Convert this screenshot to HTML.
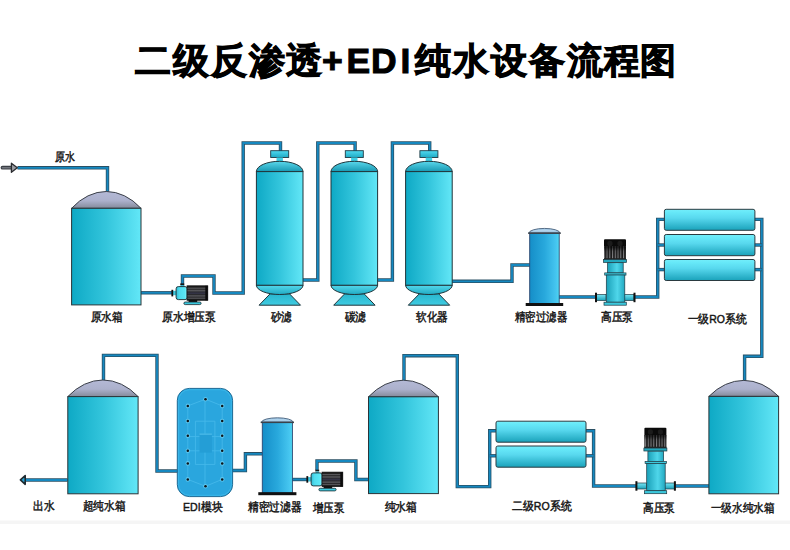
<!DOCTYPE html>
<html><head><meta charset="utf-8"><style>
html,body{margin:0;padding:0;background:#fff;width:790px;height:550px;overflow:hidden}
svg{display:block;font-family:"Liberation Sans",sans-serif}
.title{position:absolute;left:0;top:0}
</style></head><body>
<svg width="790" height="550" viewBox="0 0 790 550">
<defs>
<linearGradient id="gTank" x1="0" x2="1" y1="0" y2="0"><stop offset="0" stop-color="#0ea9c5"/><stop offset="0.5" stop-color="#33c5dc"/><stop offset="0.93" stop-color="#5ce2f3"/><stop offset="1" stop-color="#62e8f8"/></linearGradient>
<linearGradient id="gDome" x1="0" x2="0" y1="0" y2="1"><stop offset="0" stop-color="#b4b9d6"/><stop offset="0.55" stop-color="#acb1cc"/><stop offset="1" stop-color="#848a9a"/></linearGradient>
<linearGradient id="gFDome" x1="0" x2="0" y1="0" y2="1"><stop offset="0" stop-color="#5ad8ec"/><stop offset="1" stop-color="#1898b2"/></linearGradient>
<linearGradient id="gFBot" x1="0" x2="0" y1="0" y2="1"><stop offset="0" stop-color="#54d8ec"/><stop offset="1" stop-color="#20aac2"/></linearGradient>
<linearGradient id="gSkirt" x1="0" x2="0" y1="0" y2="1"><stop offset="0" stop-color="#28b6ce"/><stop offset="1" stop-color="#40cce2"/></linearGradient>
<linearGradient id="gCap" x1="0" x2="0" y1="0" y2="1"><stop offset="0" stop-color="#50daf0"/><stop offset="1" stop-color="#1eaac4"/></linearGradient>
<linearGradient id="gHead" x1="0" x2="1" y1="0" y2="0"><stop offset="0" stop-color="#1aa0b8"/><stop offset="0.6" stop-color="#4fd6ea"/><stop offset="1" stop-color="#22a8c0"/></linearGradient>
<linearGradient id="gPort" x1="0" x2="0" y1="0" y2="1"><stop offset="0" stop-color="#7ae6f4"/><stop offset="1" stop-color="#1aa0b8"/></linearGradient>
<linearGradient id="gMotor" x1="0" x2="0" y1="0" y2="1">
<stop offset="0" stop-color="#141414"/><stop offset="0.1" stop-color="#222"/><stop offset="0.16" stop-color="#5a5a5e"/><stop offset="0.24" stop-color="#2a2a2c"/>
<stop offset="0.34" stop-color="#5c5c60"/><stop offset="0.42" stop-color="#2a2a30"/><stop offset="0.52" stop-color="#343448"/><stop offset="0.6" stop-color="#2a2a2e"/>
<stop offset="0.7" stop-color="#5a5a5e"/><stop offset="0.78" stop-color="#262628"/><stop offset="0.86" stop-color="#56565a"/><stop offset="0.93" stop-color="#1e1e1e"/><stop offset="1" stop-color="#111"/></linearGradient>
<linearGradient id="gHead1" x1="0" x2="1" y1="0" y2="0"><stop offset="0" stop-color="#2fbcd4"/><stop offset="0.3" stop-color="#4fdcee"/><stop offset="0.8" stop-color="#5ae8f6"/><stop offset="0.92" stop-color="#86f4ff"/><stop offset="1" stop-color="#2ab4cc"/></linearGradient>
<pattern id="gRib" x="0.6" y="0" width="2.75" height="20" patternUnits="userSpaceOnUse"><rect width="2.75" height="20" fill="#1a1a1a"/><rect x="0.9" width="1.1" height="20" fill="#8a8a8e"/></pattern><linearGradient id="gRibShade" x1="0" x2="0" y1="0" y2="1"><stop offset="0" stop-color="#000" stop-opacity="0.75"/><stop offset="0.35" stop-color="#000" stop-opacity="0.2"/><stop offset="1" stop-color="#000" stop-opacity="0"/></linearGradient>
<linearGradient id="gPF" x1="0" x2="1" y1="0" y2="0"><stop offset="0" stop-color="#158ec8"/><stop offset="0.5" stop-color="#28a8dc"/><stop offset="0.9" stop-color="#46c6f0"/><stop offset="1" stop-color="#4edaf2"/></linearGradient>
<linearGradient id="gPDome" x1="0" x2="0" y1="0" y2="1"><stop offset="0" stop-color="#9cc4e4"/><stop offset="0.5" stop-color="#b4d6ee"/><stop offset="1" stop-color="#8cb4d4"/></linearGradient>
<linearGradient id="gMem" x1="0" x2="0" y1="0" y2="1"><stop offset="0" stop-color="#74eefa"/><stop offset="0.15" stop-color="#66e8f8"/><stop offset="0.42" stop-color="#58d8ee"/><stop offset="1" stop-color="#1aa2ba"/></linearGradient>
<linearGradient id="gEDI" x1="0" x2="1" y1="0" y2="0"><stop offset="0" stop-color="#2296d0"/><stop offset="0.5" stop-color="#2ea8e2"/><stop offset="1" stop-color="#2a9ed8"/></linearGradient>
</defs>
<rect x="0" y="520.5" width="790" height="3.5" fill="#f5f5f5"/>

<text x="135 173 211 249 285.5 322 346.5 371 400.6 415 452.6 491 528.5 566.6 604 639.5" y="72.9" font-size="35.5" font-weight="900" fill="#000" stroke="#000" stroke-width="1">二级反渗透+EDI纯水设备流程图</text>
<path d="M17.5,167.8 L107.5,167.8 L107.5,192" fill="none" stroke="#2a5064" stroke-width="3.4" stroke-linejoin="miter" stroke-linecap="butt"/>
<path d="M17.5,167.8 L107.5,167.8 L107.5,192" fill="none" stroke="#1588c0" stroke-width="1.8" stroke-linejoin="miter" stroke-linecap="butt"/>
<path d="M141,292.8 L173,292.8" fill="none" stroke="#2a5064" stroke-width="3.4" stroke-linejoin="miter" stroke-linecap="butt"/>
<path d="M141,292.8 L173,292.8" fill="none" stroke="#1588c0" stroke-width="1.8" stroke-linejoin="miter" stroke-linecap="butt"/>
<path d="M182.5,287 L182.5,276 L214,276 L214,293 L243.2,293 L243.2,143 L280.5,143 L280.5,151" fill="none" stroke="#2a5064" stroke-width="3.4" stroke-linejoin="miter" stroke-linecap="butt"/>
<path d="M182.5,287 L182.5,276 L214,276 L214,293 L243.2,293 L243.2,143 L280.5,143 L280.5,151" fill="none" stroke="#1588c0" stroke-width="1.8" stroke-linejoin="miter" stroke-linecap="butt"/>
<path d="M303.0,280 L317.8,280 L317.8,143 L355.1,143 L355.1,151" fill="none" stroke="#2a5064" stroke-width="3.4" stroke-linejoin="miter" stroke-linecap="butt"/>
<path d="M303.0,280 L317.8,280 L317.8,143 L355.1,143 L355.1,151" fill="none" stroke="#1588c0" stroke-width="1.8" stroke-linejoin="miter" stroke-linecap="butt"/>
<path d="M377.6,280 L392.4,280 L392.4,143 L429.70000000000005,143 L429.70000000000005,151" fill="none" stroke="#2a5064" stroke-width="3.4" stroke-linejoin="miter" stroke-linecap="butt"/>
<path d="M377.6,280 L392.4,280 L392.4,143 L429.70000000000005,143 L429.70000000000005,151" fill="none" stroke="#1588c0" stroke-width="1.8" stroke-linejoin="miter" stroke-linecap="butt"/>
<path d="M451.5,281.3 L512,281.3 L512,265 L530,265" fill="none" stroke="#2a5064" stroke-width="3.4" stroke-linejoin="miter" stroke-linecap="butt"/>
<path d="M451.5,281.3 L512,281.3 L512,265 L530,265" fill="none" stroke="#1588c0" stroke-width="1.8" stroke-linejoin="miter" stroke-linecap="butt"/>
<path d="M559,297 L597,297" fill="none" stroke="#2a5064" stroke-width="3.4" stroke-linejoin="miter" stroke-linecap="butt"/>
<path d="M559,297 L597,297" fill="none" stroke="#1588c0" stroke-width="1.8" stroke-linejoin="miter" stroke-linecap="butt"/>
<path d="M633,297 L657.7,297 L657.7,219.4 L665,219.4" fill="none" stroke="#2a5064" stroke-width="3.4" stroke-linejoin="miter" stroke-linecap="butt"/>
<path d="M633,297 L657.7,297 L657.7,219.4 L665,219.4" fill="none" stroke="#1588c0" stroke-width="1.8" stroke-linejoin="miter" stroke-linecap="butt"/>
<path d="M657.7,245 L665,245" fill="none" stroke="#2a5064" stroke-width="3.4" stroke-linejoin="miter" stroke-linecap="butt"/>
<path d="M657.7,245 L665,245" fill="none" stroke="#1588c0" stroke-width="1.8" stroke-linejoin="miter" stroke-linecap="butt"/>
<path d="M657.7,269.6 L665,269.6" fill="none" stroke="#2a5064" stroke-width="3.4" stroke-linejoin="miter" stroke-linecap="butt"/>
<path d="M657.7,269.6 L665,269.6" fill="none" stroke="#1588c0" stroke-width="1.8" stroke-linejoin="miter" stroke-linecap="butt"/>
<path d="M754,219.4 L761.8,219.4 L761.8,356.3 L744.6,356.3 L744.6,381" fill="none" stroke="#2a5064" stroke-width="3.4" stroke-linejoin="miter" stroke-linecap="butt"/>
<path d="M754,219.4 L761.8,219.4 L761.8,356.3 L744.6,356.3 L744.6,381" fill="none" stroke="#1588c0" stroke-width="1.8" stroke-linejoin="miter" stroke-linecap="butt"/>
<path d="M754,245 L761.8,245" fill="none" stroke="#2a5064" stroke-width="3.4" stroke-linejoin="miter" stroke-linecap="butt"/>
<path d="M754,245 L761.8,245" fill="none" stroke="#1588c0" stroke-width="1.8" stroke-linejoin="miter" stroke-linecap="butt"/>
<path d="M754,269.6 L761.8,269.6" fill="none" stroke="#2a5064" stroke-width="3.4" stroke-linejoin="miter" stroke-linecap="butt"/>
<path d="M754,269.6 L761.8,269.6" fill="none" stroke="#1588c0" stroke-width="1.8" stroke-linejoin="miter" stroke-linecap="butt"/>
<path d="M709.5,486 L672,486" fill="none" stroke="#2a5064" stroke-width="3.4" stroke-linejoin="miter" stroke-linecap="butt"/>
<path d="M709.5,486 L672,486" fill="none" stroke="#1588c0" stroke-width="1.8" stroke-linejoin="miter" stroke-linecap="butt"/>
<path d="M636,486 L593.6,486 L593.6,430.8 L586,430.8" fill="none" stroke="#2a5064" stroke-width="3.4" stroke-linejoin="miter" stroke-linecap="butt"/>
<path d="M636,486 L593.6,486 L593.6,430.8 L586,430.8" fill="none" stroke="#1588c0" stroke-width="1.8" stroke-linejoin="miter" stroke-linecap="butt"/>
<path d="M593.6,455.8 L586,455.8" fill="none" stroke="#2a5064" stroke-width="3.4" stroke-linejoin="miter" stroke-linecap="butt"/>
<path d="M593.6,455.8 L586,455.8" fill="none" stroke="#1588c0" stroke-width="1.8" stroke-linejoin="miter" stroke-linecap="butt"/>
<path d="M497,430.8 L489.7,430.8 L489.7,486.6 L457.3,486.6 L457.3,355.7 L404,355.7 L404,381" fill="none" stroke="#2a5064" stroke-width="3.4" stroke-linejoin="miter" stroke-linecap="butt"/>
<path d="M497,430.8 L489.7,430.8 L489.7,486.6 L457.3,486.6 L457.3,355.7 L404,355.7 L404,381" fill="none" stroke="#1588c0" stroke-width="1.8" stroke-linejoin="miter" stroke-linecap="butt"/>
<path d="M497,455.8 L489.7,455.8" fill="none" stroke="#2a5064" stroke-width="3.4" stroke-linejoin="miter" stroke-linecap="butt"/>
<path d="M497,455.8 L489.7,455.8" fill="none" stroke="#1588c0" stroke-width="1.8" stroke-linejoin="miter" stroke-linecap="butt"/>
<path d="M368.5,479.5 L355.9,479.5 L355.9,461 L317,461 L317,470" fill="none" stroke="#2a5064" stroke-width="3.4" stroke-linejoin="miter" stroke-linecap="butt"/>
<path d="M368.5,479.5 L355.9,479.5 L355.9,461 L317,461 L317,470" fill="none" stroke="#1588c0" stroke-width="1.8" stroke-linejoin="miter" stroke-linecap="butt"/>
<path d="M307.5,479.5 L292,479.5" fill="none" stroke="#2a5064" stroke-width="3.4" stroke-linejoin="miter" stroke-linecap="butt"/>
<path d="M307.5,479.5 L292,479.5" fill="none" stroke="#1588c0" stroke-width="1.8" stroke-linejoin="miter" stroke-linecap="butt"/>
<path d="M262.5,453.8 L245.4,453.8 L245.4,470.5 L232,470.5" fill="none" stroke="#2a5064" stroke-width="3.4" stroke-linejoin="miter" stroke-linecap="butt"/>
<path d="M262.5,453.8 L245.4,453.8 L245.4,470.5 L232,470.5" fill="none" stroke="#1588c0" stroke-width="1.8" stroke-linejoin="miter" stroke-linecap="butt"/>
<path d="M177.5,471 L157,471 L157,355.4 L103.5,355.4 L103.5,381" fill="none" stroke="#2a5064" stroke-width="3.4" stroke-linejoin="miter" stroke-linecap="butt"/>
<path d="M177.5,471 L157,471 L157,355.4 L103.5,355.4 L103.5,381" fill="none" stroke="#1588c0" stroke-width="1.8" stroke-linejoin="miter" stroke-linecap="butt"/>
<path d="M67.5,480 L24,480" fill="none" stroke="#2a5064" stroke-width="3.4" stroke-linejoin="miter" stroke-linecap="butt"/>
<path d="M67.5,480 L24,480" fill="none" stroke="#1588c0" stroke-width="1.8" stroke-linejoin="miter" stroke-linecap="butt"/>
<path d="M2.5,167.7 L11.6,167.7" stroke="#3a3e44" stroke-width="3.8" stroke-linecap="round"/>
<path d="M2.5,167.7 L11.6,167.7" stroke="#70747c" stroke-width="1.6" stroke-linecap="round"/>
<path d="M11.4,163.2 L17.3,167.7 L11.4,172.3 Z" fill="#9a9ca2" stroke="#2a2c30" stroke-width="1.3" stroke-linejoin="round"/>
<path d="M25.2,475.5 L20.4,479.9 L25.2,484.3 Z" fill="#2aa0d0" stroke="#1f2a30" stroke-width="1.6" stroke-linejoin="round"/>
<path d="M71.6,208.3 A60.0,91.21 0 0 1 141,208.3 Z" fill="url(#gDome)" stroke="#3a3f48" stroke-width="1"/>
<rect x="71.6" y="208.3" width="69.4" height="96.59999999999997" fill="url(#gTank)" stroke="#2a3438" stroke-width="1"/>
<rect x="172.50" y="290.80" width="4.00" height="4.40" fill="#3ec6dc"/>
<rect x="171.40" y="289.80" width="1.80" height="6.60" fill="#111"/>
<rect x="180.30" y="283.40" width="3.90" height="1.80" fill="#151515"/>
<rect x="180.60" y="285.20" width="3.30" height="2.00" fill="#3ec6dc"/>
<rect x="176.10" y="286.60" width="11.10" height="13.00" rx="2.2" fill="url(#gHead1)" stroke="#1b2a30" stroke-width="0.9"/>
<rect x="188.60" y="299.80" width="8.60" height="2.40" fill="#111"/>
<rect x="183.90" y="302.00" width="17.20" height="2.60" rx="1.3" fill="#3ccadf" stroke="#1b2a30" stroke-width="0.8"/>
<rect x="187.00" y="285.80" width="20.80" height="14.50" fill="url(#gMotor)"/>
<rect x="205.30" y="285.80" width="2.50" height="14.50" fill="#0c0c0c"/>
<rect x="187.00" y="285.80" width="20.80" height="14.50" fill="none" stroke="#111" stroke-width="0.7"/>
<rect x="270.7" y="150.7" width="18" height="6.8" fill="url(#gCap)" stroke="#1e3a44" stroke-width="0.9"/>
<rect x="276.5" y="157.5" width="6.4" height="4.5" fill="#3fd0e6"/>
<path d="M256.4,171.6 A23.30000000000001,10.3 0 0 1 303.0,171.6 Z" fill="url(#gFDome)" stroke="#20343a" stroke-width="1"/>
<path d="M270.09999999999997,293.8 L289.5,293.8 L300.5,305.2 L259.09999999999997,305.2 Z" fill="url(#gSkirt)" stroke="#20343a" stroke-width="1"/>
<path d="M256.4,285.2 A23.30000000000001,9.3 0 0 0 303.0,285.2 Z" fill="url(#gFBot)" stroke="#20343a" stroke-width="1"/>
<rect x="256.4" y="171.6" width="46.60000000000002" height="113.6" fill="url(#gTank)" stroke="#20343a" stroke-width="1"/>
<rect x="345.3" y="150.7" width="18" height="6.8" fill="url(#gCap)" stroke="#1e3a44" stroke-width="0.9"/>
<rect x="351.1" y="157.5" width="6.4" height="4.5" fill="#3fd0e6"/>
<path d="M331.0,171.6 A23.30000000000001,10.3 0 0 1 377.6,171.6 Z" fill="url(#gFDome)" stroke="#20343a" stroke-width="1"/>
<path d="M344.7,293.8 L364.1,293.8 L375.1,305.2 L333.7,305.2 Z" fill="url(#gSkirt)" stroke="#20343a" stroke-width="1"/>
<path d="M331.0,285.2 A23.30000000000001,9.3 0 0 0 377.6,285.2 Z" fill="url(#gFBot)" stroke="#20343a" stroke-width="1"/>
<rect x="331.0" y="171.6" width="46.60000000000002" height="113.6" fill="url(#gTank)" stroke="#20343a" stroke-width="1"/>
<rect x="419.9" y="150.7" width="18" height="6.8" fill="url(#gCap)" stroke="#1e3a44" stroke-width="0.9"/>
<rect x="425.7" y="157.5" width="6.4" height="4.5" fill="#3fd0e6"/>
<path d="M405.59999999999997,171.6 A23.30000000000001,10.3 0 0 1 452.2,171.6 Z" fill="url(#gFDome)" stroke="#20343a" stroke-width="1"/>
<path d="M419.29999999999995,293.8 L438.7,293.8 L449.7,305.2 L408.29999999999995,305.2 Z" fill="url(#gSkirt)" stroke="#20343a" stroke-width="1"/>
<path d="M405.59999999999997,285.2 A23.30000000000001,9.3 0 0 0 452.2,285.2 Z" fill="url(#gFBot)" stroke="#20343a" stroke-width="1"/>
<rect x="405.59999999999997" y="171.6" width="46.60000000000002" height="113.6" fill="url(#gTank)" stroke="#20343a" stroke-width="1"/>
<rect x="529.7" y="233.1" width="29.5" height="70.70000000000002" fill="url(#gPF)" stroke="#2a4670" stroke-width="0.9"/>
<path d="M528.9000000000001,233.1 A15.55,4.699999999999994 0 0 1 560.0,233.1 Z" fill="url(#gPDome)" stroke="#47607a" stroke-width="0.9"/>
<rect x="528.1" y="232.4" width="32.7" height="1.5" fill="#3a424a"/>
<rect x="525.7" y="303.0" width="37.5" height="3" fill="#111"/>
<rect x="596" y="294.5" width="10" height="6" fill="url(#gPort)" stroke="#1e3a44" stroke-width="0.7"/>
<rect x="624" y="294.5" width="10" height="6" fill="url(#gPort)" stroke="#1e3a44" stroke-width="0.7"/>
<rect x="595" y="292.7" width="2" height="9.5" fill="#111"/>
<rect x="633.5" y="292.7" width="2" height="9.5" fill="#111"/>
<rect x="604" y="239.2" width="22" height="8" rx="1" fill="#0a0a0a"/>
<circle cx="610" cy="243.39999999999998" r="2.6" fill="#1c1c1c"/><circle cx="620" cy="243.39999999999998" r="2.6" fill="#1c1c1c"/>
<rect x="604" y="246.6" width="22" height="13.2" fill="url(#gRib)"/>
<rect x="604" y="246.6" width="22" height="13.2" fill="url(#gRibShade)"/>
<rect x="604" y="258.2" width="22" height="1.6" fill="#222"/>
<rect x="603.5" y="259.59999999999997" width="23" height="2.9" fill="#22a6bc" stroke="#1e3a44" stroke-width="0.7"/>
<rect x="607.5" y="262.7" width="15.7" height="10.2" fill="url(#gHead)" stroke="#1e3a44" stroke-width="0.7"/>
<rect x="604.7" y="272.9" width="21.3" height="2.2" fill="#3cc8dc" stroke="#1e3a44" stroke-width="0.7"/>
<rect x="606.3" y="275.0" width="18.5" height="27.2" fill="url(#gHead)" stroke="#1e3a44" stroke-width="0.7"/>
<rect x="604" y="302.2" width="22.3" height="3" fill="#3cc8dc" stroke="#1e3a44" stroke-width="0.7"/>
<rect x="664.4" y="209.3" width="90.5" height="21.0" rx="1.8" fill="url(#gMem)" stroke="#2a3a40" stroke-width="1"/>
<rect x="664.4" y="234.5" width="90.5" height="21.19999999999999" rx="1.8" fill="url(#gMem)" stroke="#2a3a40" stroke-width="1"/>
<rect x="664.4" y="259.5" width="90.5" height="21.0" rx="1.8" fill="url(#gMem)" stroke="#2a3a40" stroke-width="1"/>
<path d="M708.9,396.4 A60.0,86.03 0 0 1 778.6,396.4 Z" fill="url(#gDome)" stroke="#3a3f48" stroke-width="1"/>
<rect x="708.9" y="396.4" width="69.70000000000005" height="97.40000000000003" fill="url(#gTank)" stroke="#2a3438" stroke-width="1"/>
<rect x="636.4" y="483.0" width="10" height="6" fill="url(#gPort)" stroke="#1e3a44" stroke-width="0.7"/>
<rect x="664.4" y="483.0" width="10" height="6" fill="url(#gPort)" stroke="#1e3a44" stroke-width="0.7"/>
<rect x="635.4" y="481.2" width="2" height="9.5" fill="#111"/>
<rect x="673.9" y="481.2" width="2" height="9.5" fill="#111"/>
<rect x="644.4" y="427.7" width="22" height="8" rx="1" fill="#0a0a0a"/>
<circle cx="650.4" cy="431.9" r="2.6" fill="#1c1c1c"/><circle cx="660.4" cy="431.9" r="2.6" fill="#1c1c1c"/>
<rect x="644.4" y="435.09999999999997" width="22" height="13.2" fill="url(#gRib)"/>
<rect x="644.4" y="435.09999999999997" width="22" height="13.2" fill="url(#gRibShade)"/>
<rect x="644.4" y="446.7" width="22" height="1.6" fill="#222"/>
<rect x="643.9" y="448.09999999999997" width="23" height="2.9" fill="#22a6bc" stroke="#1e3a44" stroke-width="0.7"/>
<rect x="647.9" y="451.2" width="15.7" height="10.2" fill="url(#gHead)" stroke="#1e3a44" stroke-width="0.7"/>
<rect x="645.1" y="461.4" width="21.3" height="2.2" fill="#3cc8dc" stroke="#1e3a44" stroke-width="0.7"/>
<rect x="646.6999999999999" y="463.5" width="18.5" height="27.2" fill="url(#gHead)" stroke="#1e3a44" stroke-width="0.7"/>
<rect x="644.4" y="490.7" width="22.3" height="3" fill="#3cc8dc" stroke="#1e3a44" stroke-width="0.7"/>
<rect x="496" y="421.2" width="90" height="21.0" rx="1.8" fill="url(#gMem)" stroke="#2a3a40" stroke-width="1"/>
<rect x="496" y="446" width="90" height="21.19999999999999" rx="1.8" fill="url(#gMem)" stroke="#2a3a40" stroke-width="1"/>
<path d="M368.5,396.8 A60.0,88.69 0 0 1 438.4,396.8 Z" fill="url(#gDome)" stroke="#3a3f48" stroke-width="1"/>
<rect x="368.5" y="396.8" width="69.89999999999998" height="96.80000000000001" fill="url(#gTank)" stroke="#2a3438" stroke-width="1"/>
<rect x="307.50" y="477.10" width="4.00" height="4.40" fill="#3ec6dc"/>
<rect x="306.40" y="476.10" width="1.80" height="6.60" fill="#111"/>
<rect x="315.30" y="469.70" width="3.90" height="1.80" fill="#151515"/>
<rect x="315.60" y="471.50" width="3.30" height="2.00" fill="#3ec6dc"/>
<rect x="311.10" y="472.90" width="11.10" height="13.00" rx="2.2" fill="url(#gHead1)" stroke="#1b2a30" stroke-width="0.9"/>
<rect x="323.60" y="486.10" width="8.60" height="2.40" fill="#111"/>
<rect x="318.90" y="488.30" width="17.20" height="2.60" rx="1.3" fill="#3ccadf" stroke="#1b2a30" stroke-width="0.8"/>
<rect x="322.00" y="472.10" width="20.80" height="14.50" fill="url(#gMotor)"/>
<rect x="340.30" y="472.10" width="2.50" height="14.50" fill="#0c0c0c"/>
<rect x="322.00" y="472.10" width="20.80" height="14.50" fill="none" stroke="#111" stroke-width="0.7"/>
<rect x="262.3" y="422.3" width="30.099999999999966" height="70.69999999999999" fill="url(#gPF)" stroke="#2a4670" stroke-width="0.9"/>
<path d="M261.5,422.3 A15.849999999999984,4.500000000000034 0 0 1 293.2,422.3 Z" fill="url(#gPDome)" stroke="#47607a" stroke-width="0.9"/>
<rect x="260.7" y="421.6" width="33.29999999999997" height="1.5" fill="#3a424a"/>
<rect x="258.3" y="492.2" width="38.099999999999966" height="3" fill="#111"/>
<rect x="177.3" y="388.4" width="55.3" height="108.2" rx="12" fill="#2aa6de" stroke="#1d6a94" stroke-width="1"/>
<rect x="178.6" y="389.7" width="52.7" height="105.6" rx="10.8" fill="none" stroke="#3bb8ea" stroke-width="0.9"/>
<path d="M205.5,399.2 L187.8,405.9 M205.5,399.2 L222.2,405.9 M187.8,405.9 L187.8,479.4 M222.2,405.9 L222.2,479.4 M187.8,479.4 L205.5,486.3 L222.2,479.4 M205,399.2 L205,486.3 M195.4,421.2 L195.4,464.4 M214.9,421.2 L214.9,464.4 M195.4,421.2 L214.9,421.2 M195.4,464.4 L214.9,464.4 M187.8,436.6 L222.2,436.6 M187.8,450.8 L222.2,450.8" fill="none" stroke="#44b8ea" stroke-width="0.9"/>
<rect x="199.5" y="433.6" width="12.4" height="19" fill="#249ed6"/>
<rect x="199.5" y="433.6" width="12.4" height="1" fill="#56c4ee"/>
<circle cx="205.5" cy="399.2" r="2.3" fill="#6cd0f4" opacity="0.7"/><circle cx="205.5" cy="399.2" r="1.25" fill="#0e1418"/>
<circle cx="205.5" cy="486.3" r="2.3" fill="#6cd0f4" opacity="0.7"/><circle cx="205.5" cy="486.3" r="1.25" fill="#0e1418"/>
<circle cx="187.8" cy="405.9" r="2.3" fill="#6cd0f4" opacity="0.7"/><circle cx="187.8" cy="405.9" r="1.25" fill="#0e1418"/>
<circle cx="187.8" cy="421" r="2.3" fill="#6cd0f4" opacity="0.7"/><circle cx="187.8" cy="421" r="1.25" fill="#0e1418"/>
<circle cx="187.8" cy="435.8" r="2.3" fill="#6cd0f4" opacity="0.7"/><circle cx="187.8" cy="435.8" r="1.25" fill="#0e1418"/>
<circle cx="187.8" cy="450.8" r="2.3" fill="#6cd0f4" opacity="0.7"/><circle cx="187.8" cy="450.8" r="1.25" fill="#0e1418"/>
<circle cx="187.8" cy="463.4" r="2.3" fill="#6cd0f4" opacity="0.7"/><circle cx="187.8" cy="463.4" r="1.25" fill="#0e1418"/>
<circle cx="187.8" cy="479.4" r="2.3" fill="#6cd0f4" opacity="0.7"/><circle cx="187.8" cy="479.4" r="1.25" fill="#0e1418"/>
<circle cx="222.2" cy="405.9" r="2.3" fill="#6cd0f4" opacity="0.7"/><circle cx="222.2" cy="405.9" r="1.25" fill="#0e1418"/>
<circle cx="222.2" cy="421" r="2.3" fill="#6cd0f4" opacity="0.7"/><circle cx="222.2" cy="421" r="1.25" fill="#0e1418"/>
<circle cx="222.2" cy="435.8" r="2.3" fill="#6cd0f4" opacity="0.7"/><circle cx="222.2" cy="435.8" r="1.25" fill="#0e1418"/>
<circle cx="222.2" cy="450.8" r="2.3" fill="#6cd0f4" opacity="0.7"/><circle cx="222.2" cy="450.8" r="1.25" fill="#0e1418"/>
<circle cx="222.2" cy="463.4" r="2.3" fill="#6cd0f4" opacity="0.7"/><circle cx="222.2" cy="463.4" r="1.25" fill="#0e1418"/>
<circle cx="222.2" cy="479.4" r="2.3" fill="#6cd0f4" opacity="0.7"/><circle cx="222.2" cy="479.4" r="1.25" fill="#0e1418"/>
<path d="M67.8,396.6 A60.0,87.57 0 0 1 138.1,396.6 Z" fill="url(#gDome)" stroke="#3a3f48" stroke-width="1"/>
<rect x="67.8" y="396.6" width="70.3" height="97.19999999999999" fill="url(#gTank)" stroke="#2a3438" stroke-width="1"/>
<text x="55.0" y="161.0" font-size="11.6" textLength="20.0" lengthAdjust="spacingAndGlyphs" fill="#151515" stroke="#151515" stroke-width="0.45">原水</text>
<text x="90.5" y="321.3" font-size="11.6" textLength="32.0" lengthAdjust="spacingAndGlyphs" fill="#151515" stroke="#151515" stroke-width="0.45">原水箱</text>
<text x="162.0" y="320.8" font-size="11.6" textLength="54.0" lengthAdjust="spacingAndGlyphs" fill="#151515" stroke="#151515" stroke-width="0.45">原水增压泵</text>
<text x="270.5" y="321.1" font-size="11.6" textLength="21.0" lengthAdjust="spacingAndGlyphs" fill="#151515" stroke="#151515" stroke-width="0.45">砂滤</text>
<text x="344.5" y="321.1" font-size="11.6" textLength="21.5" lengthAdjust="spacingAndGlyphs" fill="#151515" stroke="#151515" stroke-width="0.45">碳滤</text>
<text x="416.0" y="321.1" font-size="11.6" textLength="32.0" lengthAdjust="spacingAndGlyphs" fill="#151515" stroke="#151515" stroke-width="0.45">软化器</text>
<text x="515.0" y="321.0" font-size="11.6" textLength="52.0" lengthAdjust="spacingAndGlyphs" fill="#151515" stroke="#151515" stroke-width="0.45">精密过滤器</text>
<text x="601.0" y="321.4" font-size="11.6" textLength="32.0" lengthAdjust="spacingAndGlyphs" fill="#151515" stroke="#151515" stroke-width="0.45">高压泵</text>
<text x="687.5" y="323.3" font-size="11.6" textLength="59.0" lengthAdjust="spacingAndGlyphs" fill="#151515" stroke="#151515" stroke-width="0.45">一级RO系统</text>
<text x="33.0" y="509.6" font-size="11.6" textLength="21.5" lengthAdjust="spacingAndGlyphs" fill="#151515" stroke="#151515" stroke-width="0.45">出水</text>
<text x="82.5" y="510.4" font-size="11.6" textLength="43.0" lengthAdjust="spacingAndGlyphs" fill="#151515" stroke="#151515" stroke-width="0.45">超纯水箱</text>
<text x="183.0" y="511.0" font-size="11.6" textLength="39.5" lengthAdjust="spacingAndGlyphs" fill="#151515" stroke="#151515" stroke-width="0.45">EDI模块</text>
<text x="248.0" y="511.0" font-size="11.6" textLength="53.5" lengthAdjust="spacingAndGlyphs" fill="#151515" stroke="#151515" stroke-width="0.45">精密过滤器</text>
<text x="312.5" y="512.0" font-size="11.6" textLength="31.5" lengthAdjust="spacingAndGlyphs" fill="#151515" stroke="#151515" stroke-width="0.45">增压泵</text>
<text x="384.5" y="510.5" font-size="11.6" textLength="32.5" lengthAdjust="spacingAndGlyphs" fill="#151515" stroke="#151515" stroke-width="0.45">纯水箱</text>
<text x="512.0" y="510.2" font-size="11.6" textLength="59.5" lengthAdjust="spacingAndGlyphs" fill="#151515" stroke="#151515" stroke-width="0.45">二级RO系统</text>
<text x="643.0" y="512.2" font-size="11.6" textLength="32.0" lengthAdjust="spacingAndGlyphs" fill="#151515" stroke="#151515" stroke-width="0.45">高压泵</text>
<text x="710.5" y="512.0" font-size="11.6" textLength="64.0" lengthAdjust="spacingAndGlyphs" fill="#151515" stroke="#151515" stroke-width="0.45">一级水纯水箱</text>
</svg></body></html>
